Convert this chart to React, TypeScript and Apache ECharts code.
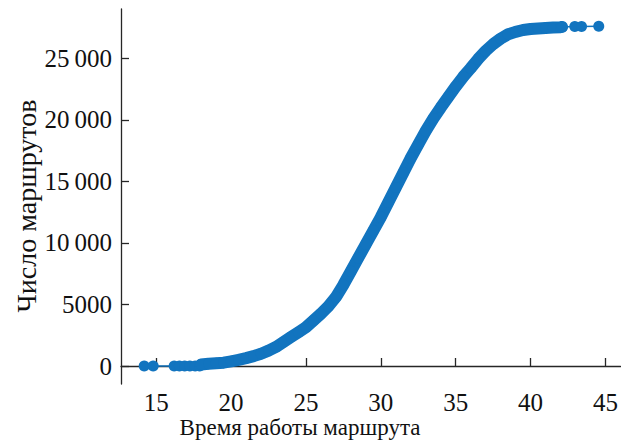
import React, { useEffect, useRef } from "react";
import * as echarts from "echarts";

// Время работы маршрута (x) and cumulative число маршрутов (y)
const timeValues = [
  14.2, 14.8, 16.2, 16.55, 16.9, 17.25, 17.6, 17.9,
  18.0, 18.5, 19.0, 19.5, 20.0, 20.5, 21.0, 21.5, 22.0, 22.5, 23.0, 23.5,
  24.0, 24.5, 25.0, 25.5, 26.0, 26.5, 27.0, 27.5, 28.0, 28.5, 29.0, 29.5,
  30.0, 30.5, 31.0, 31.5, 32.0, 32.5, 33.0, 33.5, 34.0, 34.5, 35.0, 35.5,
  36.0, 36.5, 37.0, 37.5, 38.0, 38.5, 39.0, 39.5, 40.0, 40.5, 41.0, 41.5,
  42.0, 42.1, 42.95, 43.4, 44.55,
];
const routeCounts = [
  0, 0, 0, 0, 0, 0, 0, 0,
  120, 190, 230, 270, 380, 500, 640, 800, 1000, 1250, 1550, 1950,
  2350, 2750, 3150, 3700, 4250, 4850, 5600, 6600, 7700, 8800, 9900, 11000,
  12100, 13300, 14500, 15700, 16900, 18000, 19100, 20100, 21000, 21850, 22700, 23500,
  24200, 24950, 25600, 26150, 26600, 26950, 27150, 27300, 27380, 27430, 27470, 27500,
  27530, 27550, 27580, 27580, 27600,
];
const denseFrom = 18.0;
const denseTo = 42.1;

const xTicks = [15, 20, 25, 30, 35, 40, 45];
const yTicks = [0, 5000, 10000, 15000, 20000, 25000];
const yTickLabels = ["0", "5000", "10\u2009000", "15\u2009000", "20\u2009000", "25\u2009000"];

const xTitle = "Время работы маршрута";
const yTitle = "Число маршрутов";

const BLUE = "#1274bf";
const AXIS = "#262626";
const FONT = "Liberation Serif";

export default function App() {
  const ref = useRef<HTMLDivElement>(null);
  useEffect(() => {
    if (!ref.current) return;
    const chart = echarts.init(ref.current, undefined, { renderer: "svg" });
    const all = timeValues.map((x, i) => [x, routeCounts[i]]);
    const dense = all.filter((p) => p[0] >= denseFrom && p[0] <= denseTo);
    chart.setOption({
      animation: false,
      backgroundColor: "#ffffff",
      grid: { left: 121, top: 9, right: 0, bottom: 59 },
      xAxis: {
        type: "value",
        min: 12.65,
        max: 46.0,
        axisLine: { show: true, lineStyle: { color: AXIS, width: 1.3 } },
        axisTick: { show: true, inside: true, length: 8, customValues: xTicks, lineStyle: { color: AXIS, width: 1.3 } },
        axisLabel: { customValues: xTicks, margin: 6, fontSize: 25, fontFamily: FONT, color: "#111" },
        splitLine: { show: false },
      },
      yAxis: {
        type: "value",
        min: -1462,
        max: 29006,
        axisLine: { show: true, lineStyle: { color: AXIS, width: 1.3 } },
        axisTick: { show: true, inside: true, length: 8, customValues: yTicks, lineStyle: { color: AXIS, width: 1.3 } },
        axisLabel: {
          customValues: yTicks,
          margin: 9,
          fontSize: 25,
          fontFamily: FONT,
          color: "#111",
          formatter: (v: number) => {
            const i = yTicks.indexOf(v);
            return i >= 0 ? yTickLabels[i] : "";
          },
        },
        splitLine: { show: false },
      },
      graphic: [
        {
          type: "text",
          x: 300,
          y: 427,
          style: { text: xTitle, align: "center", verticalAlign: "middle", fontSize: 23, fontFamily: FONT, fill: "#111" },
        },
        {
          type: "text",
          x: 26,
          y: 206,
          rotation: Math.PI / 2,
          style: { text: yTitle, align: "center", verticalAlign: "middle", fontSize: 28, fontFamily: FONT, fill: "#111" },
        },
      ],
      series: [
        {
          type: "line",
          data: dense,
          showSymbol: false,
          symbol: "none",
          lineStyle: { color: BLUE, width: 12, cap: "round", join: "round" },
          silent: true,
          z: 2,
        },
        {
          type: "line",
          data: all,
          symbol: "circle",
          symbolSize: 11,
          showAllSymbol: true,
          itemStyle: { color: BLUE },
          lineStyle: { color: BLUE, width: 1.5 },
          z: 3,
        },
      ],
    });
    return () => chart.dispose();
  }, []);
  return (
    <div ref={ref} style={{ position: "fixed", left: 0, top: 0, width: 621, height: 443, background: "#fff" }} />
  );
}
